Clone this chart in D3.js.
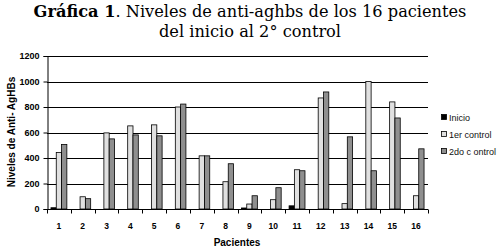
<!DOCTYPE html>
<html>
<head>
<meta charset="utf-8">
<script src="https://cdn.jsdelivr.net/npm/d3@7"></script>
<style>
  body { margin: 0; background: #fff; }
  svg { display: block; }
  .tick text { font-family: "Liberation Sans", Arial, sans-serif; fill: #000; }
</style>
</head>
<body>
<svg id="myGraph" width="499" height="252"></svg>
<script>
// datos
var pacientes = ["1","2","3","4","5","6","7","8","9","10","11","12","13","14","15","16"];
var series = ["Inicio", "1er control", "2do c ontrol"];
var inicio = [10, 0, 0, 0, 0, 0, 0, 0, 8, 0, 25, 0, 0, 0, 0, 0];
var control1 = [443, 96, 597, 652, 660, 800, 417, 214, 39, 73, 308, 871, 42, 1000, 840, 104];
var control2 = [506, 81, 550, 581, 574, 823, 417, 355, 104, 167, 300, 918, 566, 300, 714, 472];
var yTicks = [0, 200, 400, 600, 800, 1000, 1200];
var colores = ["#000000", "#e0e0e0", "#8f8f8f"];

var svg = d3.select("#myGraph");
var mLeft = 47, mRight = 428, mTop = 56, mBottom = 209;

var valores = [inicio, control1, control2];

var x = d3.scaleBand().domain(pacientes).range([mLeft, mRight]).padding(0);
var xs = d3.scaleBand().domain(series).range([0, x.bandwidth()]).paddingInner(0).paddingOuter(0.745);
var y = d3.scaleLinear().domain([0, 1200]).range([mBottom, mTop]);

// titulo
var titulo = svg.append("text")
  .attr("x", 250).attr("y", 17)
  .attr("text-anchor", "middle")
  .style("font-family", "'DejaVu Serif', serif")
  .style("font-size", "16.2px")
  .attr("fill", "#000");
titulo.append("tspan").style("font-weight", "bold").text("Gráfica 1");
titulo.append("tspan").text(". Niveles de anti-aghbs de los 16 pacientes");
svg.append("text")
  .attr("x", 250).attr("y", 37)
  .attr("text-anchor", "middle")
  .style("font-family", "'DejaVu Serif', serif")
  .style("font-size", "16.2px")
  .text("del inicio al 2° control");

// lineas de cuadricula
svg.append("g").selectAll("line")
  .data(yTicks.slice(1))
  .enter().append("line")
  .attr("x1", mLeft).attr("x2", mRight)
  .attr("y1", function(d){ return Math.round(y(d)) + 0.5; })
  .attr("y2", function(d){ return Math.round(y(d)) + 0.5; })
  .attr("stroke", "#000").attr("stroke-width", 1);

// barras
series.forEach(function(s, k){
  svg.append("g").selectAll("rect")
    .data(pacientes)
    .enter().append("rect")
    .attr("x", function(d){ return x(d) + xs(s); })
    .attr("y", function(d, i){ return y(valores[k][i]); })
    .attr("width", xs.bandwidth())
    .attr("height", function(d, i){ return mBottom - y(valores[k][i]); })
    .attr("fill", colores[k])
    .attr("stroke", "#000").attr("stroke-width", 0.8);
});

// eje y
var ejeY = svg.append("g")
  .attr("transform", "translate(" + (mLeft + 0.5) + ",0)")
  .call(d3.axisLeft(y).tickValues(yTicks).tickSize(4).tickPadding(4).tickFormat(d3.format("d")));
ejeY.selectAll("line, path").attr("stroke", "#000");
ejeY.selectAll("text").style("font-size", "9px").style("font-weight", "bold").attr("fill", "#111");

// eje x
var ejeX = svg.append("g")
  .attr("transform", "translate(0," + (mBottom + 0.5) + ")")
  .call(d3.axisBottom(x).tickSize(0).tickPadding(13));
ejeX.select("path").attr("stroke", "#000").attr("d", "M" + mLeft + ",0H" + mRight);
ejeX.selectAll(".tick line").remove();
ejeX.selectAll("text").style("font-size", "8.5px").style("font-weight", "bold").attr("fill", "#111");
ejeX.append("g").selectAll("line")
  .data(pacientes.concat(["fin"]))
  .enter().append("line")
  .attr("x1", function(d, i){ return Math.round(mLeft + i * x.step()) + 0.5; })
  .attr("x2", function(d, i){ return Math.round(mLeft + i * x.step()) + 0.5; })
  .attr("y1", 0).attr("y2", 4)
  .attr("stroke", "#000");

// titulos de ejes
svg.append("text")
  .attr("x", 237).attr("y", 246)
  .attr("text-anchor", "middle")
  .style("font-family", "'Liberation Sans', Arial, sans-serif")
  .style("font-size", "10px").style("font-weight", "bold")
  .text("Pacientes");
svg.append("text")
  .attr("transform", "translate(15,132) rotate(-90)")
  .attr("text-anchor", "middle")
  .style("font-family", "'Liberation Sans', Arial, sans-serif")
  .style("font-size", "10px").style("font-weight", "bold")
  .text("Niveles de Anti- AgHBs");

// leyenda
var leyenda = svg.append("g").attr("transform", "translate(441,114)");
series.forEach(function(s, k){
  var g = leyenda.append("g").attr("transform", "translate(0," + (k * 17) + ")");
  g.append("rect").attr("x", 0.5).attr("y", 0.5).attr("width", 5).attr("height", 5)
    .attr("fill", colores[k]).attr("stroke", "#000").attr("stroke-width", 0.8);
  g.append("text").attr("x", 8).attr("y", 7)
    .style("font-family", "'Liberation Sans', Arial, sans-serif")
    .style("font-size", "9px")
    .attr("fill", "#111")
    .text(s);
});
</script>
</body>
</html>
